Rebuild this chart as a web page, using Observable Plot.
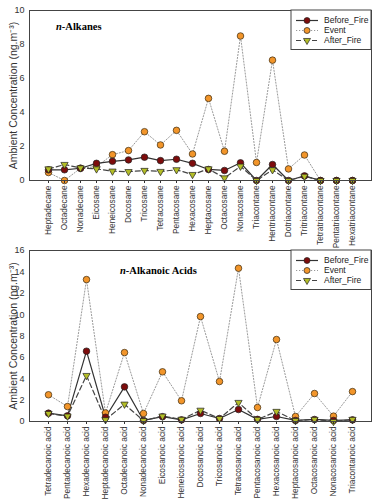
<!DOCTYPE html>
<html><head><meta charset="utf-8">
<script src="https://cdn.jsdelivr.net/npm/d3@7"></script>
<script src="https://cdn.jsdelivr.net/npm/@observablehq/plot@0.6"></script>
<style>
body{margin:0;background:#fff;font-family:"Liberation Sans",Arial,sans-serif;}
svg{display:block;overflow:visible;}
#c{position:relative;width:375px;height:500px;}
</style>
</head><body><div id="c"></div>
<script>
// ---- data ----
const alkanes = ["Heptadecane","Octadecane","Nonadecane","Eicosane","Heneicosane","Docosane","Tricosane","Tetracosane","Pentacosane","Hexacosane","Heptacosane","Octacosane","Nonacosane","Triacontane","Hentriacontane","Dotriacontane","Tritriacontane","Tetratriacontane","Pentatriacontane","Hexatriacontane"];
const alkBefore = [0.63,0.63,0.72,1.01,1.13,1.21,1.37,1.17,1.25,1.01,0.65,0.59,1.04,0.0,0.94,0.0,0.27,0.0,0.0,0.0];
const alkEvent  = [0.47,0.0,0.72,0.82,1.52,1.76,2.87,2.09,2.95,1.56,4.83,1.72,8.5,1.06,7.08,0.68,1.5,0.0,0.0,0.0];
const alkAfter  = [0.68,0.94,0.74,0.68,0.55,0.52,0.59,0.53,0.63,0.35,0.68,0.15,0.84,0.0,0.63,0.0,0.25,0.0,0.0,0.0];

const acids = ["Tetradecanoic acid","Pentadecanoic acid","Hexadecanoic acid","Heptadecanoic acid","Octadecanoic acid","Nonadecanoic acid","Eicosanoic acid","Heneicosanoic acid","Docosanoic acid","Tricosanoic acid","Tetracosanoic acid","Pentacosanoic acid","Hexacosanoic acid","Heptacosanoic acid","Octacosanoic acid","Nonacosanoic acid","Triacontanoic acid"];
const acidBefore = [0.78,0.53,6.58,0.4,3.24,0.1,0.45,0.15,0.75,0.28,1.12,0.2,0.47,0.1,0.19,0.1,0.15];
const acidEvent  = [2.5,1.4,13.28,0.8,6.45,0.75,4.65,1.94,9.82,3.74,14.34,1.31,7.67,0.47,2.62,0.5,2.8];
const acidAfter  = [0.75,0.5,4.3,0.16,1.62,0.08,0.5,0.2,1.05,0.28,1.78,0.19,0.94,0.08,0.19,0.0,0.19];

const yTicksAlk = [0,2,4,6,8,10];
const yTicksAcid = [0,2,4,6,8,10,12,14,16];
const seriesNames = ["Before_Fire","Event","After_Fire"];

// ---- styles ----
const colBefore = "#7d0c0c", colEvent = "#f2952a", colAfter = "#b3bd26";
const invTri = {
  draw(ctx, size) {
    const s = Math.sqrt(size * 4 / Math.sqrt(3));
    const h = s * Math.sqrt(3) / 2;
    ctx.moveTo(0, 2 * h / 3);
    ctx.lineTo(-s / 2, -h / 3);
    ctx.lineTo(s / 2, -h / 3);
    ctx.closePath();
  }
};
const W = 375, ML = 29, MR = 4;

function makeChart(cats, before, event, after, yMax, yTicks, height, mt, mb, titleItalic, titleRest, tx, ty) {
  const rows = cats.map((c, i) => ({cat: c, before: before[i], event: event[i], after: after[i]}));
  const svg = Plot.plot({
    width: W, height, marginLeft: ML, marginRight: MR, marginTop: mt, marginBottom: mb,
    style: {fontFamily: '"Liberation Sans", Arial, sans-serif', fontSize: "9px", color: "#333", background: "transparent", overflow: "visible"},
    x: {type: "point", domain: cats, padding: 1},
    y: {domain: [0, yMax]},
    marks: [
      Plot.line(rows, {x: "cat", y: "event", stroke: "#9a9a9a", strokeWidth: 1, strokeDasharray: "1.2,1.8"}),
      Plot.line(rows, {x: "cat", y: "before", stroke: "#333", strokeWidth: 1.2}),
      Plot.line(rows, {x: "cat", y: "after", stroke: "#444", strokeWidth: 1.2, strokeDasharray: "5,3"}),
      Plot.dot(rows, {x: "cat", y: "event", r: 3.3, fill: colEvent, stroke: "#3a2a10", strokeWidth: 0.7}),
      Plot.dot(rows, {x: "cat", y: "before", r: 3.3, fill: colBefore, stroke: "#222", strokeWidth: 0.7}),
      Plot.dot(rows, {x: "cat", y: "after", r: 2.7, symbol: invTri, fill: colAfter, stroke: "#222", strokeWidth: 0.7}),
      Plot.axisX({tickRotate: -90, tickSize: 3, tickPadding: 2, label: null, fontSize: 8.3}),
      Plot.axisY({ticks: yTicks, tickSize: 0, tickPadding: 5, fontSize: 9,
        label: "Ambient Concentration (ng.m\u207B\u00B3)", labelAnchor: "center", labelArrow: "none", labelOffset: 20}),
      Plot.frame({stroke: "#444", strokeWidth: 1})
    ]
  });
  const s = d3.select(svg);
  s.selectAll("[aria-label='y-axis label'] text").attr("font-size", 10.5);
  // title annotation
  const t = s.append("text")
    .attr("x", tx).attr("y", ty).attr("text-anchor", "start")
    .attr("font-family", '"Liberation Serif", "Times New Roman", serif')
    .attr("font-weight", "bold").attr("font-size", 10.5).attr("fill", "#000");
  t.append("tspan").attr("font-style", "italic").text(titleItalic);
  t.append("tspan").text(titleRest);
  // legend
  const lx = W - MR - 80, ly = mt;
  const g = s.append("g").attr("transform", `translate(${lx},${ly})`);
  g.append("rect").attr("width", 80).attr("height", 39.5).attr("fill", "#fff").attr("stroke", "#444").attr("stroke-width", 1);
  const items = [
    {name: seriesNames[0], dash: null, stroke: "#333", fill: colBefore, sym: "c"},
    {name: seriesNames[1], dash: "1.2,1.8", stroke: "#9a9a9a", fill: colEvent, sym: "c"},
    {name: seriesNames[2], dash: "5,3", stroke: "#444", fill: colAfter, sym: "t"}
  ];
  items.forEach((it, i) => {
    const yy = 10.5 + i * 10;
    g.append("line").attr("x1", 5).attr("x2", 27).attr("y1", yy).attr("y2", yy)
      .attr("stroke", it.stroke).attr("stroke-width", 1.2).attr("stroke-dasharray", it.dash);
    if (it.sym === "c") {
      g.append("circle").attr("cx", 16).attr("cy", yy).attr("r", 3).attr("fill", it.fill).attr("stroke", "#222").attr("stroke-width", 0.7);
    } else {
      g.append("path").attr("transform", `translate(16,${yy})`).attr("d", d3.symbol(invTri, Math.PI * 2.6 * 2.6)())
        .attr("fill", it.fill).attr("stroke", "#222").attr("stroke-width", 0.7);
    }
    g.append("text").attr("x", 33).attr("y", yy).attr("dy", "0.35em").attr("text-anchor", "start")
      .attr("font-size", 8.5).attr("fill", "#222").text(it.name);
  });
  return svg;
}

const host = document.getElementById("c");
const chartTop = makeChart(alkanes, alkBefore, alkEvent, alkAfter, 10, yTicksAlk, 250, 10, 70, "n", "-Alkanes", 56, 29.5);
const chartBot = makeChart(acids, acidBefore, acidEvent, acidAfter, 16, yTicksAcid, 260, 10, 79, "n", "-Alkanoic Acids", 120, 34);
chartTop.style.position = "absolute"; chartTop.style.left = "0px"; chartTop.style.top = "0px";
chartBot.style.position = "absolute"; chartBot.style.left = "0px"; chartBot.style.top = "240px";
host.appendChild(chartTop);
host.appendChild(chartBot);
</script>
</body></html>
